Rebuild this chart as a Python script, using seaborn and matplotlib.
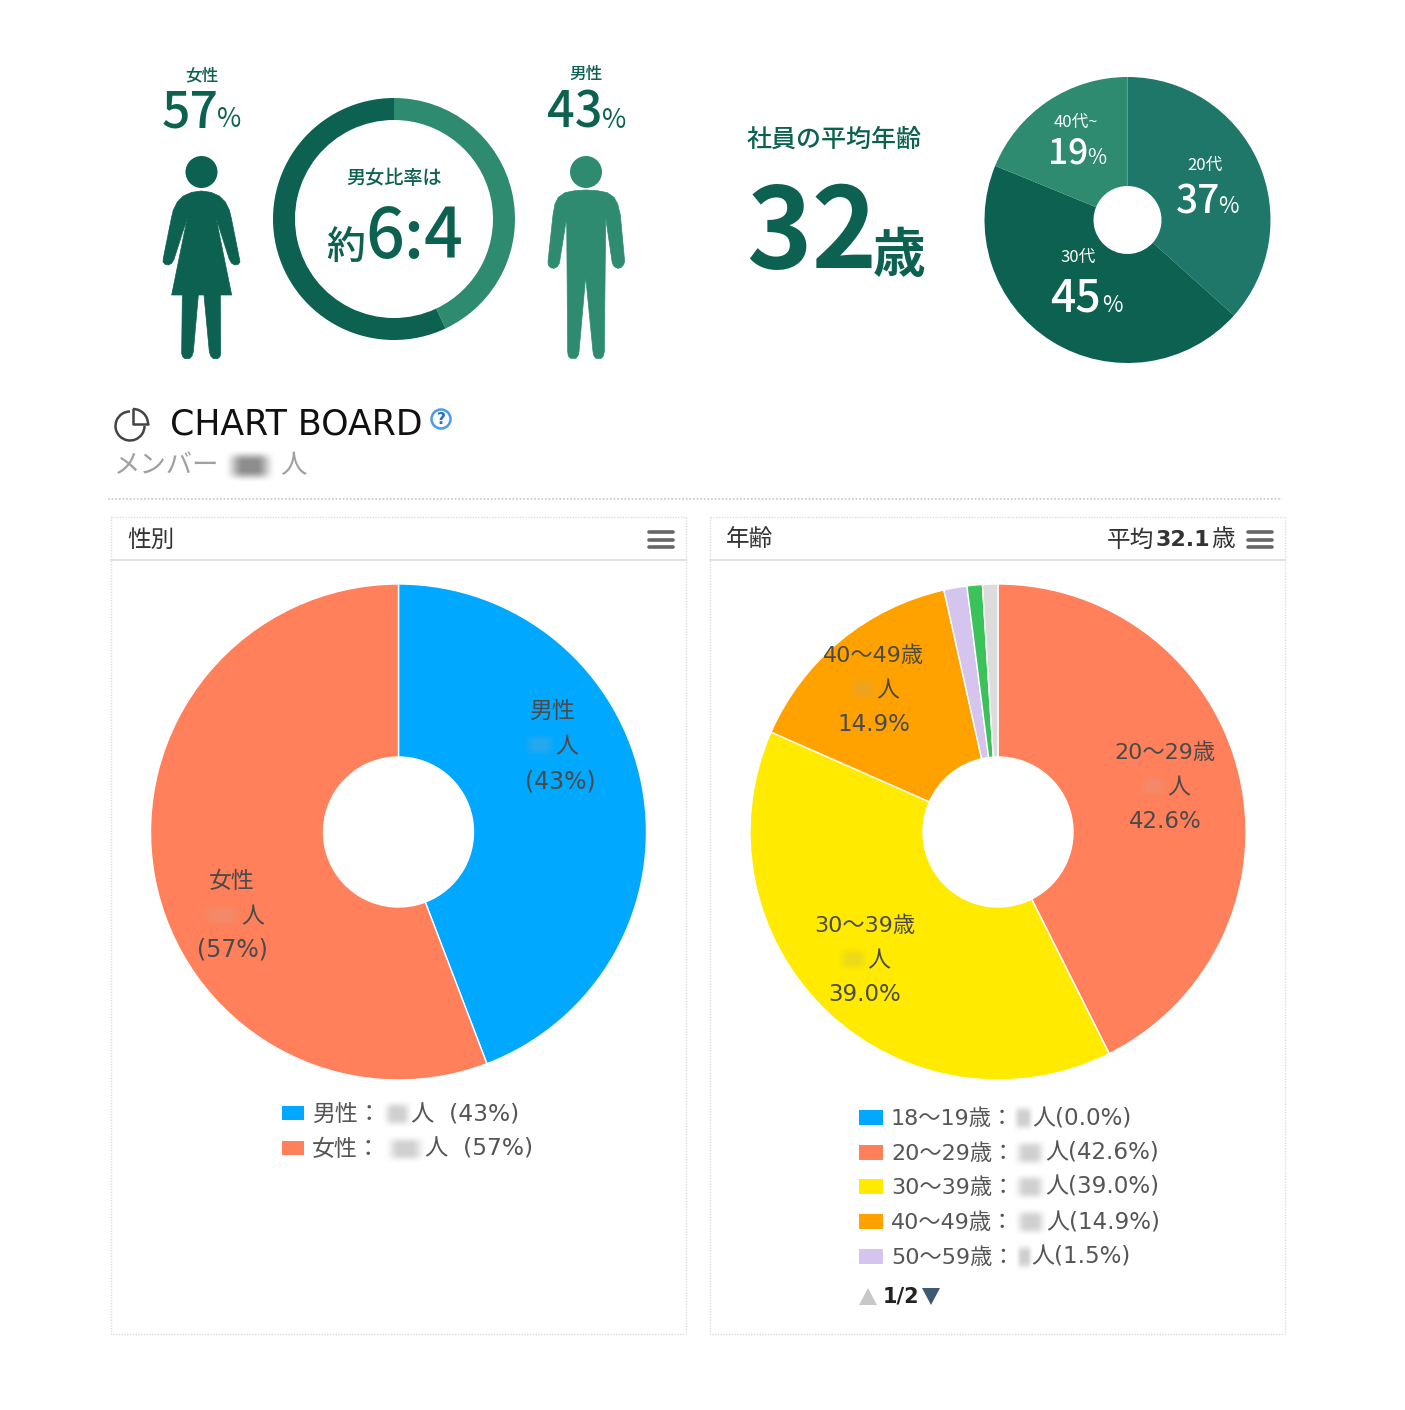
import numpy as np
import matplotlib
matplotlib.use('Agg')
import matplotlib.pyplot as plt
from matplotlib.patches import Arc, Circle, Polygon, Rectangle
import seaborn as sns

# top infographics
ratio_values = [43, 57]
ratio_colors = ['#2e8b70', '#0c6150']
age_green_labels = ['20代', '30代', '40代~']
age_green_values = [37, 45, 19]
age_green_colors = ['#1e7768', '#0c6150', '#2e8b70']

# bottom panels (wedges, the printed labels say 43 / 57)
gender_names = ['男性', '女性']
gender_values = [44.2, 55.8]
gender_pct = [43, 57]
gender_colors = ['#00a8ff', '#ff805a']

age_names = ['18〜19歳', '20〜29歳', '30〜39歳', '40〜49歳', '50〜59歳', '60歳〜', 'その他']
age_values = [0.0, 42.6, 39.0, 14.9, 1.5, 1.0, 1.0]
age_colors = ['#00a8ff', '#ff805a', '#ffea00', '#ffa200', '#d4c4ee', '#3cc25a', '#dcdcdc']

W, H = 1405, 1410
GREEN = '#0c6150'
GREEN2 = '#2e8b70'
TXT = '#4a4a4a'
JP = ['Noto Sans CJK JP', 'DejaVu Sans']
WEB = ['DejaVu Sans', 'Noto Sans CJK JP']

sns.set_theme(style='white')
plt.rcParams['font.family'] = JP

fig = plt.figure(figsize=(W / 100, H / 100), dpi=100, facecolor='white')


def pie_axes(cx, cy, r, values, colors, hole, edge=None):
    ax = fig.add_axes([(cx - r) / W, 1 - (cy + r) / H, 2 * r / W, 2 * r / H])
    props = {'width': 1 - hole / r, 'edgecolor': edge if edge else 'none', 'linewidth': 1 if edge else 0}
    ax.pie(values, colors=sns.color_palette(colors), startangle=90, counterclock=False,
           radius=1, normalize=True, wedgeprops=props)
    ax.set_xlim(-1, 1)
    ax.set_ylim(-1, 1)
    ax.set_axis_off()
    return ax


pie_axes(394, 219, 121, ratio_values, ratio_colors, 99)
pie_axes(1127.5, 220, 143, age_green_values, age_green_colors, 34)
pie_axes(398.5, 832, 248, gender_values, gender_colors, 75, edge='white')
pie_axes(998, 832, 248, age_values, age_colors, 75, edge='white')

# overlay in pixel coordinates for everything that is not a pie
bg = fig.add_axes([0, 0, 1, 1], facecolor='none')
bg.set_zorder(5)


def txt(x, y, s, size, color=TXT, weight='normal', ha='center', va='center', family=JP, **kw):
    bg.text(x, y, s, fontsize=size, color=color, fontweight=weight, ha=ha, va=va, family=family, **kw)


def web(x, y, s, size, color=TXT, weight='normal', ha='center'):
    # the lower half is a screenshot with a Verdana like latin font
    txt(x, y + 1.5, s, size, color, weight, ha=ha, family=WEB)


def blur(x0, x1, yc, h, color='#9a9a9a', alpha=0.5):
    t = np.linspace(0, 1, 40)
    e = np.clip(np.minimum(t, 1 - t) / 0.38, 0, 1)
    e = e * e * (3 - 2 * e)
    rgba = np.zeros((40, 40, 4))
    rgba[..., :3] = matplotlib.colors.to_rgb(color)
    rgba[..., 3] = np.outer(e, e) * alpha
    bg.imshow(rgba, extent=(x0 - 3, x1 + 3, yc + h / 2, yc - h / 2), aspect='auto',
              interpolation='bilinear', zorder=3)


def person(points, head, color):
    pts = np.array(points, dtype=float)
    pts[:, 0] = 130 + pts[:, 0] / 3
    pts[:, 1] = 50 + pts[:, 1] / 3
    bg.add_patch(Polygon(pts, closed=True, facecolor=color, edgecolor=color,
                         linewidth=0.5, joinstyle='round'))
    bg.add_patch(Circle(head, 16, color=color, linewidth=0))


woman = [(214, 423), (185, 427), (160, 438), (142, 456), (130, 480), (124, 505), (100, 625), (99, 635),
         (105, 643), (115, 645), (125, 640), (132, 628), (172, 503), (125, 735), (157, 735), (155, 910),
         (158, 920), (165, 926), (178, 926), (186, 918), (190, 905), (205, 735), (222, 735), (238, 905),
         (242, 918), (250, 926), (263, 926), (270, 920), (272, 910), (271, 735), (305, 735), (258, 503),
         (298, 628), (305, 640), (315, 645), (325, 643), (330, 635), (328, 625), (304, 505), (298, 480),
         (286, 456), (268, 438), (243, 427)]
man = [(1368, 420), (1335, 422), (1305, 428), (1285, 442), (1275, 462), (1269, 495), (1254, 635), (1255, 645),
       (1262, 653), (1272, 655), (1282, 650), (1288, 640), (1310, 503), (1313, 905), (1315, 918), (1322, 925),
       (1338, 925), (1345, 915), (1347, 905), (1367, 680), (1389, 905), (1392, 918), (1398, 925), (1414, 925),
       (1420, 918), (1423, 905), (1427, 503), (1447, 640), (1453, 650), (1463, 655), (1473, 653), (1480, 645),
       (1484, 635), (1471, 495), (1463, 462), (1452, 442), (1432, 428), (1402, 422)]
person(woman, (201.5, 172), GREEN)
person(man, (586, 172), GREEN2)

# left infographic text
txt(201.5, 75, '女性', 12, GREEN, 'medium')
txt(162, 127, str(ratio_values[1]), 36, GREEN, 'medium', ha='left', va='baseline')
txt(217, 127, '%', 19, GREEN, ha='left', va='baseline')
txt(586, 74, '男性', 12, GREEN, 'medium')
txt(547, 128, str(ratio_values[0]), 35, GREEN, 'medium', ha='left', va='baseline')
txt(602, 128, '%', 19, GREEN, ha='left', va='baseline')
txt(394, 178, '男女比率は', 13.8, GREEN, 'medium')
txt(326, 259, '約', 28, GREEN, 'medium', ha='left', va='baseline')
txt(365, 258, '6:4', 49, GREEN, 'medium', ha='left', va='baseline')

# right infographic text
txt(834, 139.5, '社員の平均年齢', 18, GREEN, 'medium')
txt(746, 268, '32', 80, GREEN, 'bold', ha='left', va='baseline')
txt(873, 272, '歳', 38, GREEN, 'bold', ha='left', va='baseline')
txt(1205, 165, age_green_labels[0], 12, 'white')
txt(1176, 213, str(age_green_values[0]), 28, 'white', 'medium', ha='left', va='baseline')
txt(1218, 213, '%', 16, 'white', ha='left', va='baseline')
txt(1078, 257, age_green_labels[1], 12, 'white')
txt(1050, 312, str(age_green_values[1]), 32, 'white', 'medium', ha='left', va='baseline')
txt(1102, 312, '%', 16, 'white', ha='left', va='baseline')
txt(1076, 122, age_green_labels[2], 12, 'white')
txt(1048, 164, str(age_green_values[2]), 25.5, 'white', 'medium', ha='left', va='baseline')
txt(1087, 164, '%', 15, 'white', ha='left', va='baseline')

# board heading
bg.add_patch(Arc((130, 426), 29, 29, theta1=0, theta2=270, color='#444444', linewidth=1.8))
bg.add_patch(Arc((133, 424), 30, 30, theta1=270, theta2=360, color='#444444', linewidth=1.8))
bg.plot([133, 133, 148], [409, 424, 424], color='#444444', lw=1.8)
web(170, 423, 'CHART BOARD', 25, '#111111', ha='left')
bg.add_patch(Circle((441, 419), 9.5, facecolor='white', edgecolor='#4a9be8', linewidth=1.8))
txt(441, 419, '?', 11, '#1f6fd0', 'bold', family='DejaVu Sans')
web(114, 465, 'メンバー', 19, '#a0a0a0', ha='left')
blur(226, 274, 466, 34, '#808080', 0.9)
web(280, 465, '人', 19, '#a0a0a0', ha='left')
bg.plot([108, 1282], [499, 499], color='#cfcfcf', lw=1.3, ls=(0, (1, 1)))

# panel frames
for x0, x1 in [(111, 686), (710, 1285)]:
    bg.add_patch(Rectangle((x0, 517), x1 - x0, 817, fill=False, edgecolor='#dddddd', lw=1, ls=(0, (1, 1))))
    bg.plot([x0, x1], [560, 560], color='#e2e2e2', lw=1.5)
    for y in [532, 539.5, 547]:
        bg.plot([x1 - 37, x1 - 13], [y, y], color='#666666', lw=2.6, solid_capstyle='round')

web(127, 538, '性別', 17, '#333333', ha='left')
web(726, 538, '年齢', 17, '#333333', ha='left')
web(1107, 538, '平均', 17, '#333333', ha='left')
web(1156, 538, '32.1', 16, '#333333', 'bold', ha='left')
web(1211, 538, '歳', 17, '#333333', ha='left')

# labels on the wedges
web(552, 710, gender_names[0], 16.5)
blur(525, 555, 745, 26, '#4da8dc')
web(567, 745, '人', 16.5)
web(560, 780, f'({gender_pct[0]}%)', 17)
web(232, 880, gender_names[1], 16.5)
blur(200, 243, 915, 26, '#e89478')
web(253, 915, '人', 16.5)
web(232, 948, f'({gender_pct[1]}%)', 17)

for name, val, cx, y, bx0, bx1, px, col in [
        (age_names[1], age_values[1], 1165, 751, 1140, 1168, 1179, '#e89478'),
        (age_names[2], age_values[2], 865, 924, 840, 867, 879, '#dccb30'),
        (age_names[3], age_values[3], 874, 654, 850, 877, 888, '#dea540')]:
    web(cx, y, name, 16)
    blur(bx0, bx1, y + 35, 26, col)
    web(px, y + 35, '人', 16.5)
    web(cx, y + 69, f'{val:.1f}%', 16.5)

# left legend
for i, (y, bx0, bx1) in enumerate([(1113, 384, 411), (1148, 386, 425)]):
    bg.add_patch(Rectangle((282, y - 7), 22, 14, color=gender_colors[i], lw=0))
    web(312, y, gender_names[i] + '：', 16.5, '#555555', ha='left')
    blur(bx0, bx1, y + 1, 30, '#b0b0b0', 0.6)
    web(bx1, y, f'人  ({gender_pct[i]}%)', 16.8, '#555555', ha='left')

# right legend, first page only shows five rows
for i, (y, bx0, bx1) in enumerate([(1117, 1015, 1032), (1152, 1015, 1045), (1186, 1015, 1045),
                                   (1221, 1016, 1046), (1256, 1018, 1031)]):
    bg.add_patch(Rectangle((859, y - 7), 24, 15, color=age_colors[i], lw=0))
    web(891, y, age_names[i] + '：', 16, '#555555', ha='left')
    blur(bx0, bx1, y + 1, 30, '#b0b0b0', 0.6)
    web(bx1, y, f'人({age_values[i]:.1f}%)', 16.6, '#555555', ha='left')

# pager
bg.add_patch(Polygon([(859, 1305), (877, 1305), (868, 1288)], color='#c8c8c8', lw=0))
txt(883, 1296, '1/2', 15, '#222222', 'bold', ha='left', family='DejaVu Sans')
bg.add_patch(Polygon([(922, 1288), (940, 1288), (931, 1305)], color='#3d5a75', lw=0))

bg.set_xlim(0, W)
bg.set_ylim(H, 0)
bg.set_axis_off()

plt.savefig('out.png', dpi=100)
